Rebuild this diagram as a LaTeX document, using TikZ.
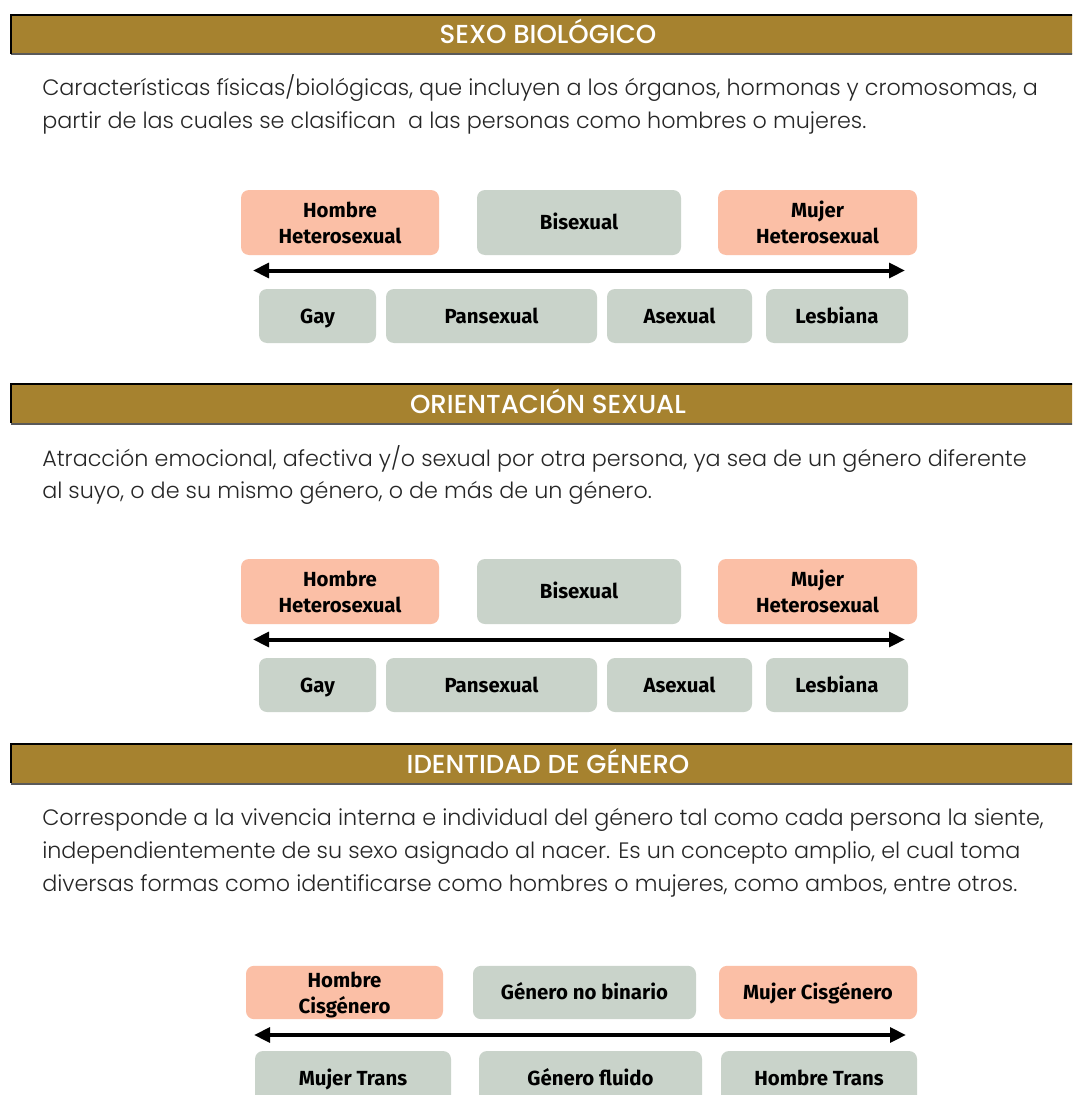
\documentclass[tikz,border=0pt]{standalone}
\usepackage{fontspec}
\setmainfont{Fira Sans}
\newfontfamily\bodyfont{Poppins Light}
\newfontfamily\headfont{Poppins Medium}
\usetikzlibrary{arrows.meta}
\definecolor{gold}{HTML}{A6822F}
\definecolor{salmon}{HTML}{FBBFA6}
\definecolor{sage}{HTML}{C9D3CA}
\definecolor{txt}{HTML}{262626}
\definecolor{barline}{HTML}{5A5A5A}
\begin{document}
\begin{tikzpicture}[x=0.75pt,y=-0.75pt,
  lab/.style={font=\fontsize{15.3}{19.5}\selectfont\bfseries, text=black, align=center, inner sep=0pt, rounded corners=6pt},
  one/.style={text height=10.5pt, text depth=0pt},
  nodepth/.style={text depth=0pt},
  pbox/.style={lab, fill=salmon},
  gbox/.style={lab, fill=sage},
  body/.style={font=\bodyfont\fontsize{16.7}{24}\selectfont, text=txt, anchor=base west, inner sep=0pt},
  head/.style={font=\headfont\fontsize{19.5}{22}\selectfont, text=white, anchor=base, inner sep=0pt},
  spec/.style={line width=3pt, {Triangle[length=12pt,width=11pt]}-{Triangle[length=12pt,width=11pt]}}]
\useasboundingbox (0,0) rectangle (1072,1095);
\clip (0,0) rectangle (1072,1095);
\fill[white] (0,0) rectangle (1072,1095);

% header bars
\foreach \y/\t/\n in {15/SEXO BIOLÓGICO/ha, 384/ORIENTACIÓN SEXUAL/hb, 744/IDENTIDAD DE GÉNERO/hc}{
  \fill[gold] (11,\y) rectangle (1080,\y+39);
  \draw[barline, line width=1.5pt] (11,\y+39.5) -- (1080,\y+39.5);
  \draw[black, line width=0.9pt] (11,\y+39) -- (11,\y) -- (1080,\y);
  \node[head] (\n) at (548,\y+29) {\t};
}

% body texts
\node[body] (t1a) at (42,96) {Características físicas/biológicas, que incluyen a los órganos, hormonas y cromosomas, a};
\node[body] (t1b) at (42,129) {partir de las cuales se clasifican\ \ a las personas como hombres o mujeres.};
\node[body] (t2a) at (42,466) {Atracción emocional, afectiva y/o sexual por otra persona, ya sea de un género diferente};
\node[body] (t2b) at (42,498) {al suyo, o de su mismo género, o de más de un género.};
\node[body] (t3a) at (42,825) {Corresponde a la vivencia interna e individual del género tal como cada persona la siente,};
\node[body] (t3b) at (42,858) {independientemente de su sexo asignado al nacer. Es un concepto amplio, el cual toma};
\node[body] (t3c) at (42,891) {diversas formas como identificarse como hombres o mujeres, como ambos, entre otros.};

% orientation spectra (two identical blocks)
\foreach \o/\s in {0/a, 369/b}{
  \node[pbox, minimum width=148.5pt, minimum height=48.75pt] (hh\s) at (340,222.5+\o) {Hombre\\Heterosexual};
  \node[gbox, one, minimum width=153pt, minimum height=48.75pt] (bi\s) at (579,222.5+\o) {Bisexual};
  \node[pbox, minimum width=149.25pt, minimum height=48.75pt] (mh\s) at (817.5,222.5+\o) {Mujer\\Heterosexual};
  \coordinate (al\s) at (253,270.5+\o);
  \coordinate (ar\s) at (905,270.5+\o);
  \draw[spec] (al\s) -- (ar\s);
  \node[gbox, one, minimum width=87.75pt, minimum height=40.5pt] (gay\s) at (317.5,316+\o) {Gay};
  \node[gbox, one, minimum width=158.25pt, minimum height=40.5pt] (pan\s) at (491.5,316+\o) {Pansexual};
  \node[gbox, one, minimum width=108.75pt, minimum height=40.5pt] (ase\s) at (679.5,316+\o) {Asexual};
  \node[gbox, one, minimum width=106.5pt, minimum height=40.5pt] (les\s) at (837,316+\o) {Lesbiana};
}

% gender identity spectrum
\node[pbox, nodepth, minimum width=147.75pt, minimum height=40pt] (hcis) at (344.5,992.5) {Hombre\\Cisgénero};
\node[gbox, one, minimum width=167.25pt, minimum height=40pt] (gnb) at (584.5,992.5) {Género no binario};
\node[pbox, one, minimum width=148.5pt, minimum height=40pt] (mcis) at (818,992.5) {Mujer Cisgénero};
\coordinate (alc) at (254,1035);
\coordinate (arc) at (906,1035);
\draw[spec] (alc) -- (arc);
\node[gbox, one, minimum width=147pt, minimum height=40.5pt] (mt) at (353,1078) {Mujer Trans};
\node[gbox, one, minimum width=167.25pt, minimum height=40.5pt] (gf) at (590.5,1078) {Género fluido};
\node[gbox, one, minimum width=147pt, minimum height=40.5pt] (ht) at (819,1078) {Hombre Trans};
\end{tikzpicture}
\end{document}
